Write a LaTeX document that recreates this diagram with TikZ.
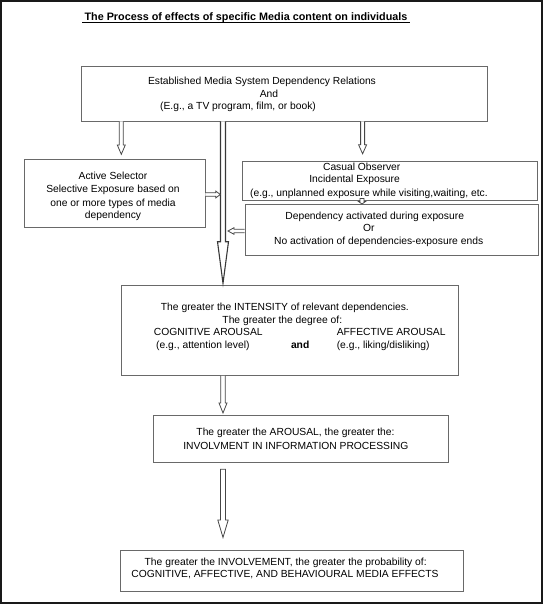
\documentclass[tikz,border=0pt]{standalone}
\usepackage{fontspec}
\setmainfont{Liberation Sans}
\usetikzlibrary{calc}
\definecolor{boxgray}{RGB}{105,105,105}
\definecolor{arrgray}{RGB}{70,70,70}
\definecolor{framec}{RGB}{25,25,25}
\newcommand\fs{\fontsize{10.3}{12.6}\selectfont}
% #1 start, #2 tip, #3 shaft half width, #4 head half width, #5 head length
\newcommand\downblock[6][]{%
  \draw[blk,#1] ($(#2)+(-#4,0)$) -- ($(#3)+(-#4,-#6)$) -- ($(#3)+(-#5,-#6)$) -- (#3)
     -- ($(#3)+(#5,-#6)$) -- ($(#3)+(#4,-#6)$) -- ($(#2)+(#4,0)$);}
\newcommand\downblockclosed[5]{%
  \draw[blk] ($(#1)+(-#3,0)$) -- ($(#2)+(-#3,-#5)$) -- ($(#2)+(-#4,-#5)$) -- (#2)
     -- ($(#2)+(#4,-#5)$) -- ($(#2)+(#3,-#5)$) -- ($(#1)+(#3,0)$) -- cycle;}
% #6 direction: 1 right, -1 left
\newcommand\hblock[6]{%
  \draw[blk] ($(#1)+(0,-#3)$) -- ($(#2)+({-(#6)*(#5)},-#3)$) -- ($(#2)+({-(#6)*(#5)},-#4)$) -- (#2)
     -- ($(#2)+({-(#6)*(#5)},#4)$) -- ($(#2)+({-(#6)*(#5)},#3)$) -- ($(#1)+(0,#3)$);}
\begin{document}
\begin{tikzpicture}[x=1pt,y=-1pt,
  box/.style={draw=boxgray, line width=0.8pt, inner sep=0pt, anchor=north west},
  txt/.style={inner sep=0pt, anchor=base, font=\fs, text=black},
  txtl/.style={txt, anchor=base west},
  blk/.style={draw=arrgray, line width=0.8pt, line join=miter, fill=white},
  shaft/.style={line width=1.1pt, draw=arrgray!80!black}]
\useasboundingbox (0,0) rectangle (544,604);
\draw[framec, line width=2pt] (1,1) rectangle (542,602.5);

% title
\node[inner sep=0pt, anchor=base, font=\bfseries\fontsize{10.8}{13}\selectfont] (title) at (246,20.3)
  {The Process of effects of specific Media content on individuals};
\draw[line width=0.9pt] ($(title.base west)+(-2,2.2)$) -- ($(title.base east)+(2,2.2)$);

% boxes
\node[box, minimum width=405.5, minimum height=54.7] (src) at (81,66) {};
\node[box, minimum width=181, minimum height=68.3] (activ) at (23.6,159) {};
\node[box, minimum width=295, minimum height=39] (cas) at (241.8,161) {};
\node[box, minimum width=293.2, minimum height=51] (dep) at (244.6,204) {};
\node[box, minimum width=336.6, minimum height=90] (inten) at (121.4,285) {};
\node[box, minimum width=295.3, minimum height=46.7] (arou) at (152.7,415) {};
\node[box, minimum width=343.5, minimum height=40.7] (final) at (119.7,550) {};

% texts
\node[txt] (src1) at (262,84.6) {Established Media System Dependency Relations};
\node[txt] (src2) at (269,97.3) {And};
\node[txt] (src3) at (238,109.6) {(E.g., a TV program, film, or book)};

\node[txt] (act1) at (113,179.6) {Active Selector};
\node[txt] (act2) at (113,192.9) {Selective Exposure based on};
\node[txt] (act3) at (113,206.3) {one or more types of media};
\node[txt] (act4) at (113,218.6) {dependency};

\node[txt] (cas1) at (361.7,170.3) {Casual Observer};
\node[txt] (cas2) at (354.6,182.9) {Incidental Exposure};
\node[txt] (cas3) at (368.9,196.3) {(e.g., unplanned exposure while visiting,waiting, etc.};

\node[txt] (dep1) at (374.7,219.3) {Dependency activated during exposure};
\node[txt] (dep2) at (368.8,231.9) {Or};
\node[txt] (dep3) at (378.7,244.3) {No activation of dependencies-exposure ends};

\node[txt] (int1) at (284.9,310.9) {The greater the INTENSITY of relevant dependencies.};
\node[txt] (int2) at (282.3,323.6) {The greater the degree of:};
\node[txtl] (int3) at (153.7,335.9) {COGNITIVE AROUSAL};
\node[txtl] (int4) at (336.6,335.9) {AFFECTIVE AROUSAL};
\node[txtl] (int5) at (156,348.6) {(e.g., attention level)};
\node[txtl, font=\fs\bfseries] (int6) at (290.8,348.6) {and};
\node[txtl] (int7) at (336.6,348.6) {(e.g., liking/disliking)};

\node[txt] (aro1) at (295.5,435.9) {The greater the AROUSAL, the greater the:};
\node[txt] (aro2) at (295.8,449.6) {INVOLVMENT IN INFORMATION PROCESSING};

\node[txt] (fin1) at (285.7,565.9) {The greater the INVOLVEMENT, the greater the probability of:};
\node[txt] (fin2) at (285,577.9) {COGNITIVE, AFFECTIVE, AND BEHAVIOURAL MEDIA EFFECTS};

% connectors
\coordinate (aLs) at (121.3,0 |- src.south);
\coordinate (aLe) at (121.3,154.3);
\downblock{aLs}{aLe}{2}{4}{9.3}

\coordinate (aRs) at (362.6,0 |- src.south);
\coordinate (aRe) at (362.6,153.8);
\downblock{aRs}{aRe}{2}{4}{9}

\coordinate (aCs) at (223,0 |- src.south);
\coordinate (aCe) at (223,283.3);
\downblock[shaft]{aCs}{aCe}{2.5}{5.5}{41.6}

\coordinate (aAs) at (activ.east |- 0,194.5);
\coordinate (aAe) at (220.3,194.5);
\hblock{aAs}{aAe}{1.7}{3.4}{4.5}{1}

\coordinate (aDs) at (dep.west |- 0,231);
\coordinate (aDe) at (228,231);
\hblock{aDs}{aDe}{1.7}{3.3}{6}{-1}

\coordinate (aSs) at (362,198.5);
\coordinate (aSe) at (362,0 |- dep.north);
\downblockclosed{aSs}{aSe}{2}{3.5}{2.5}

\coordinate (aIs) at (223,0 |- inten.south);
\coordinate (aIe) at (223,413);
\downblock{aIs}{aIe}{2.2}{4}{10}

\coordinate (aVs) at (223,469.3);
\coordinate (aVe) at (223,537.5);
\downblockclosed{aVs}{aVe}{2.5}{5.2}{17.5}
\end{tikzpicture}
\end{document}
